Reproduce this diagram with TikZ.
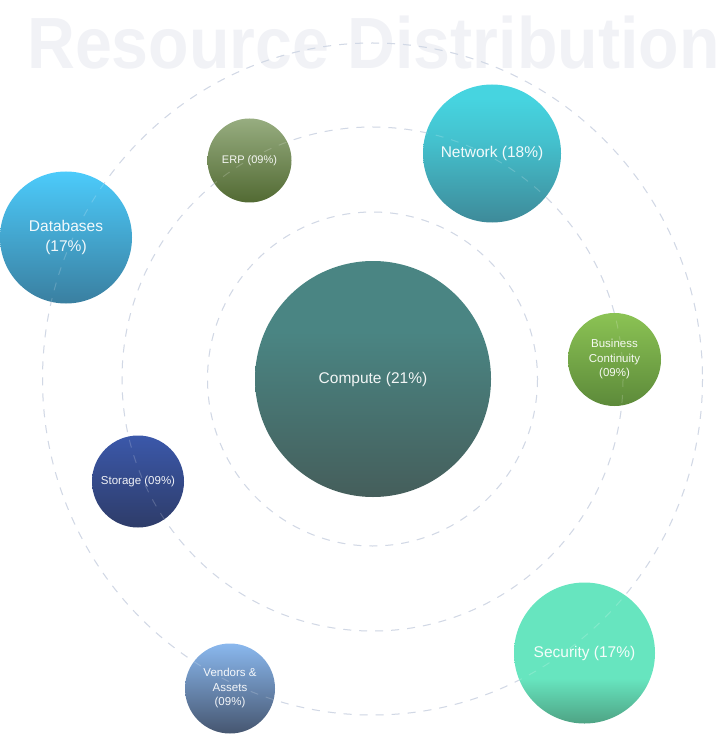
\documentclass[tikz,border=0pt]{standalone}
\usepackage{fontspec}
\setmainfont{Liberation Sans}
\newfontfamily\titlefont[FakeStretch=0.913]{Liberation Sans}
\definecolor{orbitc}{HTML}{C8D0E0}
\definecolor{titlec}{HTML}{F1F2F6}
\definecolor{cmpT}{HTML}{4A8583}\definecolor{cmpB}{HTML}{455E5B}
\definecolor{netT}{HTML}{46D4E0}\definecolor{netB}{HTML}{3E8A99}
\definecolor{dbT}{HTML}{4CCBFB}\definecolor{dbB}{HTML}{3A7FA0}
\definecolor{erpT}{HTML}{97AD80}\definecolor{erpB}{HTML}{526A33}
\definecolor{bcT}{HTML}{8BC354}\definecolor{bcB}{HTML}{5D8A3A}
\definecolor{stT}{HTML}{3B58AA}\definecolor{stB}{HTML}{2E3C69}
\definecolor{vaT}{HTML}{8AB8EE}\definecolor{vaB}{HTML}{465670}
\definecolor{secT}{HTML}{67E5BF}\definecolor{secB}{HTML}{4EA384}
\pgfdeclareverticalshading{secshade}{100bp}{color(0bp)=(secB); color(25bp)=(secB); color(41bp)=(secT); color(100bp)=(secT)}
\pgfdeclareverticalshading{netshade}{100bp}{color(0bp)=(netB); color(25bp)=(netB); color(55bp)=(netT!75!netB); color(70bp)=(netT); color(100bp)=(netT)}
\pgfdeclareverticalshading{cmpshade}{100bp}{color(0bp)=(cmpB); color(25bp)=(cmpB); color(60bp)=(cmpT); color(100bp)=(cmpT)}
\tikzset{
  orbit/.style={draw=orbitc, line width=1pt, dash pattern=on 8pt off 8pt},
  orbittop/.style={orbit, draw opacity=0.18, draw=white},
  bubble/.style={circle, inner sep=0pt, text=white, text opacity=0.93, align=center},
  bigtext/.style={font=\fontsize{15.5}{20}\selectfont},
  smalltext/.style={font=\fontsize{11.5}{14.5}\selectfont},
}
\begin{document}
\begin{tikzpicture}[x=1pt,y=-1pt]
\useasboundingbox (0,0) rectangle (724,735);
\node[anchor=base west, inner sep=0pt, text=titlec,
  font=\titlefont\bfseries\fontsize{72.6}{80}\selectfont] (title) at (27,69) {Resource Distribution};
\coordinate (ctr) at (372.5,379);
\draw[orbit] (ctr) ellipse [x radius=165, y radius=167];
\draw[orbit] (ctr) ellipse [x radius=250.5, y radius=252];
\draw[orbit] (ctr) ellipse [x radius=330, y radius=336];
\node[bubble, minimum size=236pt, shading=cmpshade] (compute) at (373,379) {};
\node[bubble, minimum size=138pt, shading=netshade] (network) at (492,153.5) {};
\node[bubble, minimum size=132pt, top color=dbT, bottom color=dbB] (databases) at (66,237.5) {};
\node[bubble, minimum size=84pt, top color=erpT, bottom color=erpB] (erp) at (249.5,160.5) {};
\node[bubble, minimum size=93pt, top color=bcT, bottom color=bcB] (bc) at (614.5,359.5) {};
\node[bubble, minimum size=92pt, top color=stT, middle color=stT!80!stB, bottom color=stB] (storage) at (138,481.5) {};
\node[bubble, minimum size=90pt, top color=vaT, bottom color=vaB] (vendors) at (230,688.5) {};
\node[bubble, minimum size=141pt, shading=secshade] (security) at (584.5,653) {};
\draw[orbittop] (ctr) ellipse [x radius=165, y radius=167];
\draw[orbittop] (ctr) ellipse [x radius=250.5, y radius=252];
\draw[orbittop] (ctr) ellipse [x radius=330, y radius=336];
\node[bubble, bigtext] (computeL) at (compute) {Compute (21\%)};
\node[bubble, bigtext] (networkL) at (network) {Network (18\%)};
\node[bubble, bigtext] (databasesL) at (databases) {Databases\\(17\%)};
\node[bubble, font=\fontsize{11}{14}\selectfont] (erpL) at (erp) {ERP (09\%)};
\node[bubble, smalltext] (bcL) at (bc) {Business\\Continuity\\(09\%)};
\node[bubble, smalltext] (storageL) at (storage) {Storage (09\%)};
\node[bubble, smalltext] (vendorsL) at (vendors) {Vendors \&\\Assets\\(09\%)};
\node[bubble, bigtext] (securityL) at (security) {Security (17\%)};
\end{tikzpicture}
\end{document}
